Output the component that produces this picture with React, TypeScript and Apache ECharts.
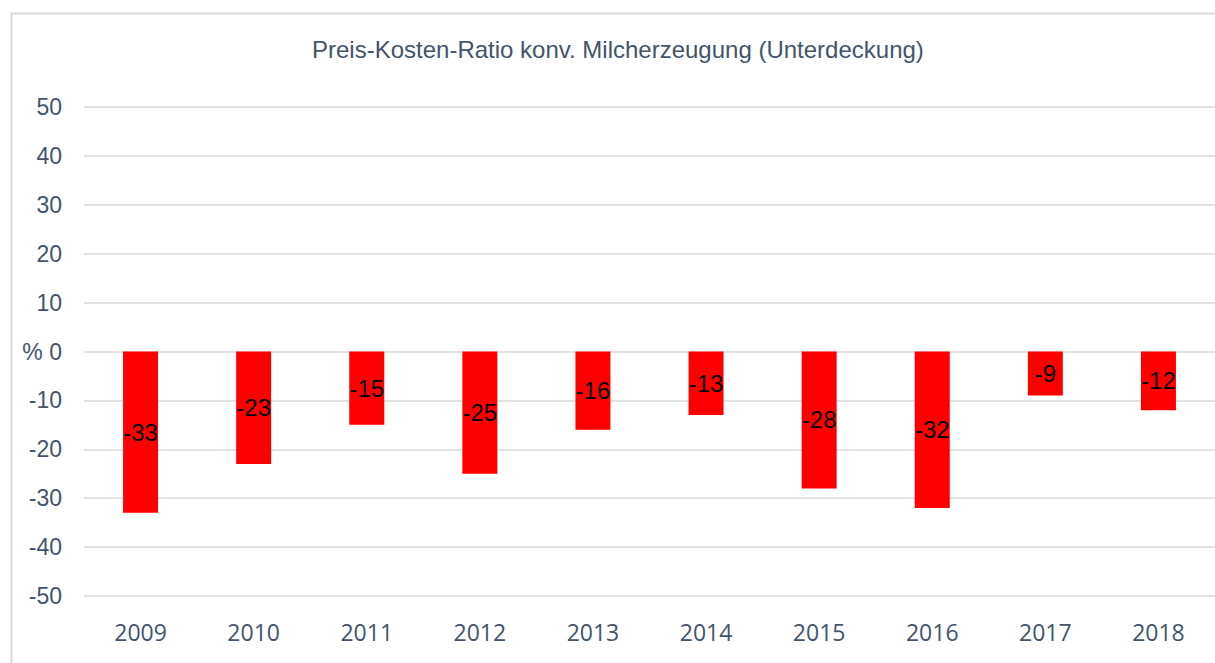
import React, { useEffect, useRef } from "react";
import * as echarts from "echarts";

const categories = ["2009", "2010", "2011", "2012", "2013", "2014", "2015", "2016", "2017", "2018"];
const ratioValues = [-33, -23, -15, -25, -16, -13, -28, -32, -9, -12];
const titleText = "Preis-Kosten-Ratio konv. Milcherzeugung (Unterdeckung)";
const yMin = -50;
const yMax = 50;
const yInterval = 10;

export default function App() {
  const ref = useRef<HTMLDivElement>(null);
  useEffect(() => {
    if (!ref.current) return;
    const chart = echarts.init(ref.current, null, { renderer: "svg" });
    chart.setOption({
      animation: false,
      backgroundColor: "#ffffff",
      title: {
        text: titleText,
        left: 307,
        top: 32,
        textStyle: {
          fontFamily: "Liberation Sans, Arial, sans-serif",
          fontSize: 24,
          fontWeight: "normal",
          color: "#44546A",
        },
      },
      graphic: [
        {
          type: "rect",
          left: 9,
          top: 11,
          shape: { width: 1300, height: 700 },
          style: { fill: "none", stroke: "#d9d9d9", lineWidth: 2 },
          silent: true,
        },
      ],
      grid: { left: 84, right: 0, top: 107, bottom: 67, containLabel: false },
      xAxis: {
        type: "category",
        data: categories,
        axisLine: { show: false },
        axisTick: { show: false },
        axisLabel: {
          margin: 24,
          fontFamily: "Open Sans, sans-serif",
          fontSize: 23,
          color: "#44546A",
        },
      },
      yAxis: {
        type: "value",
        min: yMin,
        max: yMax,
        interval: yInterval,
        axisLine: { show: false },
        axisTick: { show: false },
        splitLine: { lineStyle: { color: "#d9d9d9", width: 1.5 } },
        axisLabel: {
          margin: 22,
          fontFamily: "Liberation Sans, Arial, sans-serif",
          fontSize: 23,
          color: "#44546A",
          formatter: (v: number) => (v === 0 ? "% 0" : String(v)),
        },
      },
      series: [
        {
          type: "bar",
          data: ratioValues,
          barWidth: 35,
          itemStyle: { color: "#ff0000" },
          label: {
            show: true,
            position: "inside",
            color: "#000000",
            fontFamily: "Liberation Sans, Arial, sans-serif",
            fontSize: 24,
          },
        },
      ],
    });
    return () => chart.dispose();
  }, []);
  return (
    <div
      ref={ref}
      style={{ position: "fixed", left: 0, top: 0, width: 1215, height: 663 }}
    />
  );
}
